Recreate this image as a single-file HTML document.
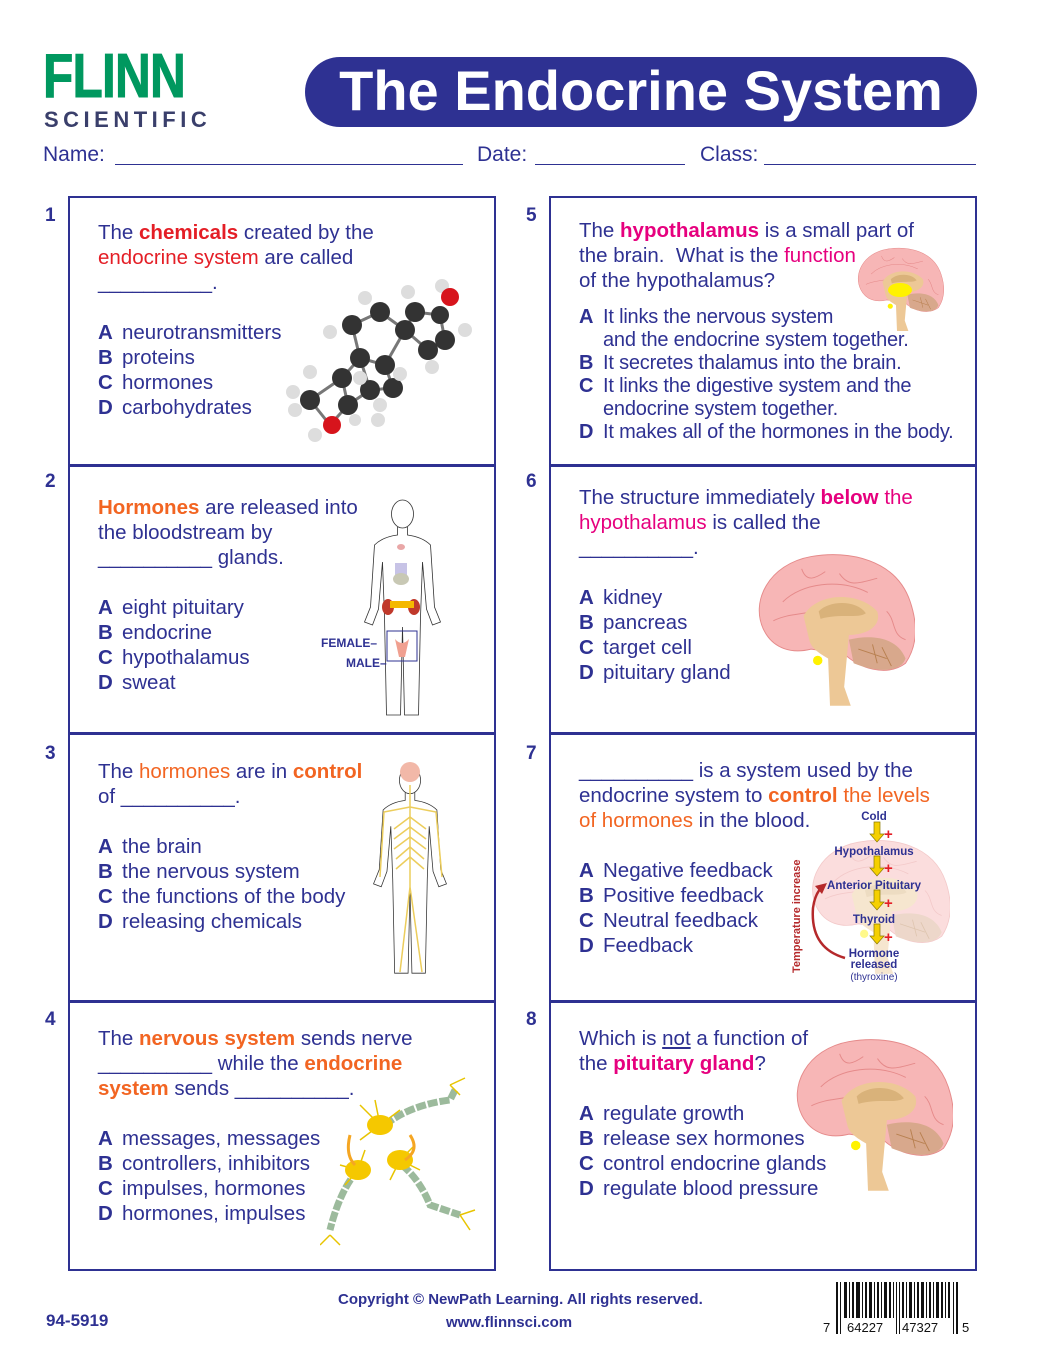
<!DOCTYPE html>
<html><head><meta charset="utf-8"><style>
body{margin:0;background:#fff;}
#p{position:relative;width:1040px;height:1365px;overflow:hidden;font-family:"Liberation Sans",Arial,sans-serif;color:#2e3192;}
.a{position:absolute;white-space:nowrap;}
.box{position:absolute;border:2px solid #2e3192;box-sizing:border-box;}
.num{position:absolute;font-size:19px;font-weight:bold;color:#2e3192;}
.t{position:absolute;font-size:20.5px;line-height:25px;white-space:nowrap;color:#2e3192;}
.t b.l{display:inline-block;width:24px;}
.r{color:#e41e26}.o{color:#f26522}.m{color:#e6007e}
.ln{position:absolute;border-bottom:1.5px solid #2e3192;height:0;}
</style></head><body><div id="p">
<svg width="0" height="0" style="position:absolute">
<defs>
<symbol id="brain" viewBox="0 0 180 170">
<path d="M20,90 C5,60 25,20 70,12 C110,5 160,15 175,60 C185,90 180,110 170,125 C150,140 120,130 105,115 L70,110 C50,115 30,110 20,90Z" fill="#f7b6b6" stroke="#e58a8a" stroke-width="1"/>
<path d="M40,60 C60,40 100,35 130,50 M30,80 C50,70 70,75 80,65 M100,30 C110,45 120,40 140,35 M60,25 C65,40 75,35 85,28 M150,70 C160,80 155,95 170,100" stroke="#e58a8a" fill="none"/>
<path d="M62,75 C75,50 120,48 140,70 C145,85 130,95 110,95 L105,150 L112,170 L90,170 L88,120 C80,115 70,110 68,100 Z" fill="#edc896"/>
<path d="M78,70 C90,58 118,58 128,72 C120,78 100,72 80,78Z" fill="#d9b27a"/>
<path d="M110,100 C130,95 160,95 170,120 C165,135 140,135 115,125Z" fill="#d8a88c"/>
<path d="M120,110 L150,120 M135,105 L140,125 M145,108 L155,128" stroke="#b88050" fill="none"/>
<circle cx="77" cy="122" r="5" fill="#fff200"/>
</symbol>
<symbol id="body" viewBox="0 0 100 220">
<ellipse cx="50" cy="17" rx="11" ry="14" fill="none" stroke="#333" stroke-width="0.8"/>
<path d="M45,30 L45,38 Q30,40 22,48 L18,110 L12,125 L20,128 L26,112 L30,65 L32,120 L34,218 L48,218 L50,130 L52,218 L66,218 L68,120 L70,65 L74,112 L80,128 L88,125 L82,110 L78,48 Q70,40 55,38 L55,30" fill="none" stroke="#333" stroke-width="0.8"/>
</symbol>
</defs></svg>

<!-- header -->
<div class="a" style="left:43px;top:44px;font-size:62px;font-weight:bold;color:#00985f;transform:scaleX(0.8);transform-origin:left;line-height:66px;-webkit-text-stroke:1px #00985f;letter-spacing:-1px;">FLINN</div>
<div class="a" style="left:44px;top:107px;font-size:22px;font-weight:bold;color:#3a3f6b;letter-spacing:4.5px;">SCIENTIFIC</div>
<div class="a" style="left:305px;top:57px;width:672px;height:70px;background:#2e3192;border-radius:35px;"></div>
<div class="a" style="left:305px;top:57px;width:672px;height:70px;line-height:68px;text-align:center;color:#fff;font-size:56px;font-family:'Liberation Sans',sans-serif;font-weight:bold;">The Endocrine System</div>
<div class="a" style="left:43px;top:143px;font-size:21px;">Name:</div>
<div class="ln" style="left:115px;top:164px;width:348px"></div>
<div class="a" style="left:477px;top:143px;font-size:21px;">Date:</div>
<div class="ln" style="left:535px;top:164px;width:150px"></div>
<div class="a" style="left:700px;top:143px;font-size:21px;">Class:</div>
<div class="ln" style="left:764px;top:164px;width:212px"></div>

<!-- boxes -->
<div class="box" style="left:68px;top:196px;width:428px;height:271px"></div>
<div class="box" style="left:68px;top:464px;width:428px;height:271px"></div>
<div class="box" style="left:68px;top:732px;width:428px;height:271px"></div>
<div class="box" style="left:68px;top:1000px;width:428px;height:271px"></div>
<div class="box" style="left:549px;top:196px;width:428px;height:271px"></div>
<div class="box" style="left:549px;top:464px;width:428px;height:271px"></div>
<div class="box" style="left:549px;top:732px;width:428px;height:271px"></div>
<div class="box" style="left:549px;top:1000px;width:428px;height:271px"></div>

<div class="num" style="left:45px;top:205px">1</div>
<div class="num" style="left:45px;top:471px">2</div>
<div class="num" style="left:45px;top:743px">3</div>
<div class="num" style="left:45px;top:1009px">4</div>
<div class="num" style="left:526px;top:205px">5</div>
<div class="num" style="left:526px;top:471px">6</div>
<div class="num" style="left:526px;top:743px">7</div>
<div class="num" style="left:526px;top:1009px">8</div>

<!-- Q1 -->
<div class="t" style="left:98px;top:220px">The <b class="r">chemicals</b> created by the<br><span class="r">endocrine system</span> are called<br>__________.<br><br><b class="l">A</b>neurotransmitters<br><b class="l">B</b>proteins<br><b class="l">C</b>hormones<br><b class="l">D</b>carbohydrates</div>
<svg class="a" style="left:280px;top:270px" width="200" height="180" viewBox="0 0 200 180">
<g stroke="#777" stroke-width="3">
<line x1="72" y1="55" x2="100" y2="42"/><line x1="100" y1="42" x2="125" y2="60"/><line x1="125" y1="60" x2="135" y2="42"/><line x1="135" y1="42" x2="160" y2="45"/><line x1="160" y1="45" x2="165" y2="70"/><line x1="165" y1="70" x2="148" y2="80"/><line x1="148" y1="80" x2="125" y2="60"/><line x1="125" y1="60" x2="105" y2="95"/><line x1="105" y1="95" x2="80" y2="88"/><line x1="80" y1="88" x2="72" y2="55"/><line x1="80" y1="88" x2="62" y2="108"/><line x1="62" y1="108" x2="68" y2="135"/><line x1="68" y1="135" x2="90" y2="120"/><line x1="90" y1="120" x2="80" y2="88"/><line x1="105" y1="95" x2="113" y2="118"/><line x1="113" y1="118" x2="90" y2="120"/><line x1="62" y1="108" x2="30" y2="130"/><line x1="30" y1="130" x2="50" y2="155"/><line x1="50" y1="155" x2="68" y2="135"/></g>
<g fill="#333"><circle cx="72" cy="55" r="10"/><circle cx="100" cy="42" r="10"/><circle cx="125" cy="60" r="10"/><circle cx="135" cy="42" r="10"/><circle cx="160" cy="45" r="9"/><circle cx="165" cy="70" r="10"/><circle cx="148" cy="80" r="10"/><circle cx="105" cy="95" r="10"/><circle cx="80" cy="88" r="10"/><circle cx="62" cy="108" r="10"/><circle cx="68" cy="135" r="10"/><circle cx="90" cy="120" r="10"/><circle cx="113" cy="118" r="10"/><circle cx="30" cy="130" r="10"/></g>
<g fill="#ddd"><circle cx="85" cy="28" r="7"/><circle cx="128" cy="22" r="7"/><circle cx="162" cy="16" r="7"/><circle cx="185" cy="60" r="7"/><circle cx="152" cy="97" r="7"/><circle cx="50" cy="62" r="7"/><circle cx="80" cy="108" r="7"/><circle cx="30" cy="102" r="7"/><circle cx="13" cy="122" r="7"/><circle cx="15" cy="140" r="7"/><circle cx="100" cy="135" r="7"/><circle cx="120" cy="104" r="7"/><circle cx="98" cy="150" r="7"/><circle cx="35" cy="165" r="7"/><circle cx="75" cy="150" r="6"/></g>
<circle cx="170" cy="27" r="9" fill="#d7141c"/><circle cx="52" cy="155" r="9" fill="#d7141c"/>
</svg>

<!-- Q2 -->
<div class="t" style="left:98px;top:495px"><b class="o">Hormones</b> are released into<br>the bloodstream by<br>__________ glands.<br><br><b class="l">A</b>eight pituitary<br><b class="l">B</b>endocrine<br><b class="l">C</b>hypothalamus<br><b class="l">D</b>sweat</div>
<svg class="a" style="left:335px;top:497px" width="135" height="220"><use href="#body" width="135" height="220" x="0" y="0" preserveAspectRatio="none"/>
<ellipse cx="66" cy="50" rx="4" ry="3" fill="#e9a7a7"/><rect x="60" y="66" width="12" height="14" fill="#c7c3e6"/><ellipse cx="66" cy="82" rx="8" ry="6" fill="#c8c8b4"/>
<ellipse cx="53" cy="110" rx="6" ry="8" fill="#c0392b"/><ellipse cx="79" cy="110" rx="6" ry="8" fill="#c0392b"/><rect x="55" y="104" width="24" height="7" fill="#f5b800"/>
<rect x="52" y="134" width="30" height="30" fill="none" stroke="#2e3192"/><path d="M60,142 Q67,150 74,142 L70,160 L64,160Z" fill="#f0a090"/>
</svg>
<div class="a" style="left:321px;top:636px;font-size:12px;font-weight:bold">FEMALE–</div>
<div class="a" style="left:346px;top:656px;font-size:12px;font-weight:bold">MALE–</div>

<!-- Q3 -->
<div class="t" style="left:98px;top:759px">The <span class="o">hormones</span> are in <b class="o">control</b><br>of __________.<br><br><b class="l">A</b>the brain<br><b class="l">B</b>the nervous system<br><b class="l">C</b>the functions of the body<br><b class="l">D</b>releasing chemicals</div>
<svg class="a" style="left:362px;top:757px" width="96" height="225"><use href="#body" width="96" height="225" preserveAspectRatio="none"/>
<circle cx="48" cy="15" r="10" fill="#f2b8a8"/>
<g stroke="#eccd5c" stroke-width="1.5" fill="none"><path d="M48,28 L48,130 L38,215 M48,130 L60,215"/><path d="M48,50 L22,55 L18,120 M48,50 L74,55 L80,120"/><path d="M48,60 L32,72 M48,70 L32,82 M48,80 L32,92 M48,90 L34,102 M48,100 L34,112 M48,60 L64,72 M48,70 L64,82 M48,80 L64,92 M48,90 L62,102 M48,100 L62,112"/></g></svg>

<!-- Q4 -->
<div class="t" style="left:98px;top:1026px">The <b class="o">nervous system</b> sends nerve<br>__________ while the <b class="o">endocrine</b><br><b class="o">system</b> sends __________.<br><br><b class="l">A</b>messages, messages<br><b class="l">B</b>controllers, inhibitors<br><b class="l">C</b>impulses, hormones<br><b class="l">D</b>hormones, impulses</div>
<svg class="a" style="left:320px;top:1070px" width="160" height="180">
<g stroke="#9cba9c" stroke-width="7" fill="none" stroke-dasharray="10 2"><path d="M65,55 Q90,35 130,30 L135,20"/><path d="M38,100 Q20,120 10,160"/><path d="M82,95 Q100,110 110,135 L140,145"/></g>
<g stroke="#e8c400" stroke-width="1.5"><path d="M60,55 L40,35 M60,55 L55,30 M60,55 L80,40 M60,55 L40,70 M38,100 L20,95 M38,100 L25,115 M38,100 L45,80 M80,90 L95,75 M80,90 L100,100 M80,90 L70,110 M130,15 L145,8 M130,15 L140,25 M10,165 L0,175 M10,165 L20,175 M140,145 L155,140 M140,145 L150,160"/></g>
<ellipse cx="60" cy="55" rx="13" ry="10" fill="#f5c800"/><ellipse cx="38" cy="100" rx="13" ry="10" fill="#f5c800"/><ellipse cx="80" cy="90" rx="13" ry="10" fill="#f5c800"/>
<path d="M30,65 Q25,85 35,95 M90,65 Q100,80 85,90" stroke="#f5a623" stroke-width="3" fill="none"/>
</svg>

<!-- Q5 -->
<div class="t" style="left:579px;top:218px">The <b class="m">hypothalamus</b> is a small part of<br>the brain.&nbsp; What is the <span class="m">function</span><br>of the hypothalamus?</div>
<div class="t" style="left:579px;top:306px;line-height:23px;font-size:20px;letter-spacing:-0.2px"><b class="l">A</b>It links the nervous system<br><span style="padding-left:24px">and the endocrine system together.</span><br><b class="l">B</b>It secretes thalamus into the brain.<br><b class="l">C</b>It links the digestive system and the<br><span style="padding-left:24px">endocrine system together.</span><br><b class="l">D</b>It makes all of the hormones in the body.</div>
<svg class="a" style="left:848px;top:243px" width="98" height="88"><use href="#brain" width="98" height="88"/><ellipse cx="52" cy="47" rx="12" ry="7" fill="#fff200"/></svg>

<!-- Q6 -->
<div class="t" style="left:579px;top:485px">The structure immediately <b class="m">below</b> <span class="m">the</span><br><span class="m">hypothalamus</span> is called the<br>__________.<br><br><b class="l">A</b>kidney<br><b class="l">B</b>pancreas<br><b class="l">C</b>target cell<br><b class="l">D</b>pituitary gland</div>
<svg class="a" style="left:745px;top:543px" width="170" height="165"><use href="#brain" width="170" height="165"/></svg>

<!-- Q7 -->
<div class="t" style="left:579px;top:758px">__________ is a system used by the<br>endocrine system to <b class="o">control</b> <span class="o">the levels</span><br><span class="o">of hormones</span> in the blood.<br><br><b class="l">A</b>Negative feedback<br><b class="l">B</b>Positive feedback<br><b class="l">C</b>Neutral feedback<br><b class="l">D</b>Feedback</div>
<svg class="a" style="left:785px;top:808px" width="170" height="180">
<use href="#brain" x="15" y="20" width="150" height="150" opacity="0.45"/>
<g fill="#f5d000" stroke="#8a7a00" stroke-width="0.7">
<path d="M89,14 h6 v12 h4 l-7,8 l-7,-8 h4z"/><path d="M89,48 h6 v12 h4 l-7,8 l-7,-8 h4z"/><path d="M89,82 h6 v12 h4 l-7,8 l-7,-8 h4z"/><path d="M89,116 h6 v12 h4 l-7,8 l-7,-8 h4z"/></g>
<g fill="#e41e26" font-weight="bold" font-size="15" font-family="Liberation Sans,sans-serif"><text x="99" y="31">+</text><text x="99" y="65">+</text><text x="99" y="100">+</text><text x="99" y="134">+</text></g>
<g fill="#2e3192" font-weight="bold" font-size="11.5" font-family="Liberation Sans,sans-serif" text-anchor="middle"><text x="89" y="12">Cold</text><text x="89" y="47">Hypothalamus</text><text x="89" y="81">Anterior Pituitary</text><text x="89" y="115">Thyroid</text><text x="89" y="149">Hormone</text><text x="89" y="160">released</text><text x="89" y="172" font-weight="normal" font-size="10">(thyroxine)</text></g>
<path d="M60,150 Q25,140 28,100 Q30,85 38,78" stroke="#b5292b" stroke-width="2.5" fill="none"/><path d="M42,75 L30,78 L37,86Z" fill="#b5292b"/>
<text transform="translate(15,165) rotate(-90)" fill="#b5292b" font-weight="bold" font-size="11" font-family="Liberation Sans,sans-serif">Temperature increase</text>
</svg>

<!-- Q8 -->
<div class="t" style="left:579px;top:1026px">Which is <u>not</u> a function of<br>the <b class="m">pituitary gland</b>?<br><br><b class="l">A</b>regulate growth<br><b class="l">B</b>release sex hormones<br><b class="l">C</b>control endocrine glands<br><b class="l">D</b>regulate blood pressure</div>
<svg class="a" style="left:783px;top:1018px" width="170" height="185"><use href="#brain" width="170" height="185" preserveAspectRatio="none"/></svg>

<!-- footer -->
<div class="a" style="left:46px;top:1311px;font-size:17px;font-weight:bold">94-5919</div>
<div class="a" style="left:338px;top:1291px;font-size:15px;font-weight:bold;">Copyright © NewPath Learning. All rights reserved.</div>
<div class="a" style="left:446px;top:1314px;font-size:15px;font-weight:bold;">www.flinnsci.com</div>
<svg class="a" style="left:820px;top:1280px" width="160" height="58">
<g fill="#111"><rect x="16" y="2" width="2" height="52"/><rect x="20" y="2" width="1" height="52"/>
<rect x="24" y="2" width="3" height="36"/><rect x="29" y="2" width="1" height="36"/><rect x="32" y="2" width="2" height="36"/><rect x="36" y="2" width="4" height="36"/><rect x="42" y="2" width="1" height="36"/><rect x="45" y="2" width="2" height="36"/><rect x="49" y="2" width="3" height="36"/><rect x="54" y="2" width="1" height="36"/><rect x="57" y="2" width="2" height="36"/><rect x="61" y="2" width="1" height="36"/><rect x="64" y="2" width="3" height="36"/><rect x="69" y="2" width="2" height="36"/><rect x="73" y="2" width="1" height="36"/>
<rect x="76" y="2" width="1" height="52"/><rect x="79" y="2" width="1" height="52"/>
<rect x="82" y="2" width="2" height="36"/><rect x="86" y="2" width="1" height="36"/><rect x="89" y="2" width="3" height="36"/><rect x="94" y="2" width="1" height="36"/><rect x="97" y="2" width="2" height="36"/><rect x="101" y="2" width="3" height="36"/><rect x="106" y="2" width="1" height="36"/><rect x="109" y="2" width="2" height="36"/><rect x="113" y="2" width="1" height="36"/><rect x="116" y="2" width="3" height="36"/><rect x="121" y="2" width="2" height="36"/><rect x="125" y="2" width="1" height="36"/><rect x="128" y="2" width="2" height="36"/>
<rect x="133" y="2" width="1" height="52"/><rect x="136" y="2" width="2" height="52"/></g>
<g font-family="Liberation Sans,sans-serif" font-size="13" fill="#111"><text x="3" y="52">7</text><text x="27" y="52">64227</text><text x="82" y="52">47327</text><text x="142" y="52">5</text></g>
</svg>
</div></body></html>
